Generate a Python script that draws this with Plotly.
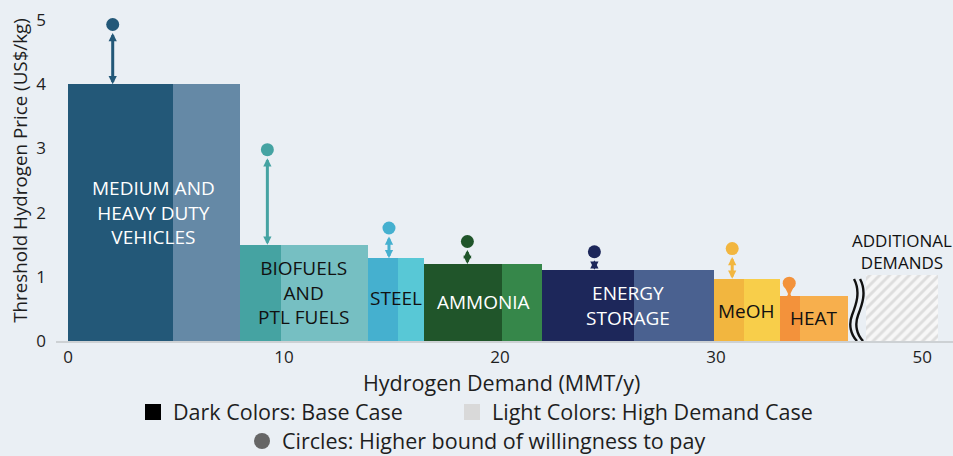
import plotly.graph_objects as go

# ---------------- data ----------------
sectors = ["Medium and heavy duty vehicles", "Biofuels and PTL fuels", "Steel",
           "Ammonia", "Energy storage", "MeOH", "Heat"]
base_demand = [4.85, 1.9, 1.4, 3.6, 4.25, 1.4, 0.95]      # MMT/y, base case
high_extra = [3.1, 4.05, 1.2, 1.85, 3.7, 1.65, 2.2]        # additional MMT/y, high demand case
threshold_price = [4.0, 1.5, 1.29, 1.2, 1.11, 0.97, 0.70]  # US$/kg
wtp_upper = [4.93, 2.98, 1.76, 1.55, 1.39, 1.44, 0.90]     # US$/kg, higher bound
wtp_x = [2.07, 9.23, 14.86, 18.49, 24.37, 30.75, 33.39]

dark_colors = ["#235878", "#45a3a2", "#45b0cf", "#20552a", "#1d275a", "#f2b63f", "#f3923b"]
light_colors = ["#6589a6", "#76bfc2", "#58c8d6", "#36874a", "#4a6190", "#f8ce4a", "#f7af4d"]

label_lines = [["MEDIUM AND", "HEAVY DUTY", "VEHICLES"], ["BIOFUELS", "AND", "PTL FUELS"],
               ["STEEL"], ["AMMONIA"], ["ENERGY", "STORAGE"], ["MeOH"], ["HEAT"]]
label_y = [2.0, 0.76, 0.67, 0.6, 0.56, 0.47, 0.36]
label_colors = ["white", "#111111", "#111111", "white", "white", "#111111", "#111111"]

additional_start = 36.94
additional_width = 3.32
additional_height = 1.03
additional_label = ["ADDITIONAL", "DEMANDS"]
break_x = 36.39

x_tickvals = [0, 10, 20, 30, 39.55]
x_ticktext = ["0", "10", "20", "30", "50"]
y_tickvals = [0, 1, 2, 3, 4, 5]

legend_names = ["Dark Colors: Base Case", "Light Colors: High Demand Case",
                "Circles: Higher bound of willingness to pay"]
legend_symbols = ["square", "square", "circle"]
legend_colors = ["#000000", "#d9d9d9", "#666666"]

FONT = "Open Sans"
TXT = "#1e1e1e"
BG = "#eaeff4"

fig = go.Figure()

# ---------------- bars ----------------
start = 0.0
starts = []
for i in range(len(sectors)):
    starts.append(start)
    b, e = base_demand[i], high_extra[i]
    fig.add_trace(go.Bar(x=[start + b / 2], y=[threshold_price[i]], width=[b],
                         marker=dict(color=dark_colors[i], line=dict(width=0)),
                         showlegend=False, hoverinfo="skip"))
    fig.add_trace(go.Bar(x=[start + b + e / 2], y=[threshold_price[i]], width=[e],
                         marker=dict(color=light_colors[i], line=dict(width=0)),
                         showlegend=False, hoverinfo="skip"))
    start += b + e

# hatched additional demands
fig.add_trace(go.Bar(x=[additional_start + additional_width / 2], y=[additional_height],
                     width=[additional_width],
                     marker=dict(color="#f7f7f7", line=dict(width=0),
                                 pattern=dict(shape="/", fgcolor="#c4c4c4", bgcolor="#f7f7f7",
                                              size=7, solidity=0.42)),
                     showlegend=False, hoverinfo="skip"))

# circles
fig.add_trace(go.Scatter(x=wtp_x, y=wtp_upper, mode="markers",
                         marker=dict(color=dark_colors, size=13, line=dict(width=0)),
                         showlegend=False, hoverinfo="skip"))

# arrows
for i in range(len(sectors)):
    fig.add_annotation(x=wtp_x[i], y=threshold_price[i], ax=wtp_x[i], ay=wtp_upper[i],
                       xref="x", yref="y", axref="x", ayref="y", text="",
                       showarrow=True, arrowhead=2, startarrowhead=2, arrowside="end+start",
                       arrowwidth=3, arrowsize=0.55, startarrowsize=0.55,
                       arrowcolor=dark_colors[i], standoff=0, startstandoff=7)

# bar labels
for i in range(len(sectors)):
    total = base_demand[i] + high_extra[i]
    cx = starts[i] + total / 2
    fig.add_annotation(x=cx, y=label_y[i], xref="x", yref="y",
                       text="<br>".join(label_lines[i]), showarrow=False,
                       font=dict(family=FONT, size=19, color=label_colors[i]))

fig.add_annotation(x=additional_start + additional_width / 2, y=additional_height,
                   xref="x", yref="y", text="<br>".join(additional_label), showarrow=False,
                   yanchor="bottom", yshift=-1,
                   font=dict(family=FONT, size=17, color="#111111"))

# x axis title
W, H = 953, 456
fig.add_annotation(text="Hydrogen Demand (MMT/y)", xref="paper", yref="paper",
                   x=(501 - 56) / 897, y=-(383 - 341) / 341, yanchor="middle",
                   showarrow=False, font=dict(family=FONT, size=21.5, color=TXT))

# axis break symbol
for dx in (0.0, 0.28):
    x0 = break_x + dx
    path = (f"M {x0:.3f},0.966 C {x0+0.32:.3f},0.763 {x0+0.09:.3f},0.561 {x0-0.09:.3f},0.405 "
            f"S {x0-0.14:.3f},0.093 {x0+0.14:.3f},0")
    fig.add_shape(type="path", path=path, xref="x", yref="y",
                  line=dict(color="#111111", width=2.4))

# legend entries (each in its own legend box)
legend_ids = ["legend", "legend2", "legend3"]
for name, sym, col, lid in zip(legend_names, legend_symbols, legend_colors, legend_ids):
    fig.add_trace(go.Scatter(x=[None], y=[None], mode="markers", name=name,
                             marker=dict(symbol=sym, size=16, color=col), legend=lid))

legend_left_px = [133, 452, 242]
legend_mid_px = [412, 412, 441]


def legend_box(left_px, mid_px):
    return dict(orientation="h", xref="container", x=left_px / W, xanchor="left",
                yref="container", y=1 - mid_px / H, yanchor="middle",
                font=dict(size=21.5, color=TXT, family=FONT), bgcolor="rgba(0,0,0,0)",
                itemclick=False, itemdoubleclick=False)


fig.update_layout(
    width=W, height=H, barmode="overlay", bargap=0,
    paper_bgcolor=BG, plot_bgcolor=BG,
    margin=dict(l=56, r=0, t=0, b=115, autoexpand=False),
    font=dict(family=FONT, color=TXT, size=18),
    xaxis=dict(range=[-12 / 21.6, 885 / 21.6], tickvals=x_tickvals, ticktext=x_ticktext,
               showgrid=False, zeroline=False, showline=True, linecolor="#cdd1d4", linewidth=2,
               ticks="", tickfont=dict(size=17, color=TXT)),
    yaxis=dict(range=[0, 341 / 64.2], tickvals=y_tickvals, showgrid=False, zeroline=False,
               showline=False, ticks="", ticklabelstandoff=9, tickfont=dict(size=17, color=TXT),
               title=dict(text="Threshold Hydrogen Price (US$/kg)", font=dict(size=18.8, color=TXT),
                          standoff=3)),
    legend=legend_box(legend_left_px[0], legend_mid_px[0]),
    legend2=legend_box(legend_left_px[1], legend_mid_px[1]),
    legend3=legend_box(legend_left_px[2], legend_mid_px[2]),
)

fig.write_html("out.html", config={"displayModeBar": False},
               post_script="document.body.style.margin='0';")
